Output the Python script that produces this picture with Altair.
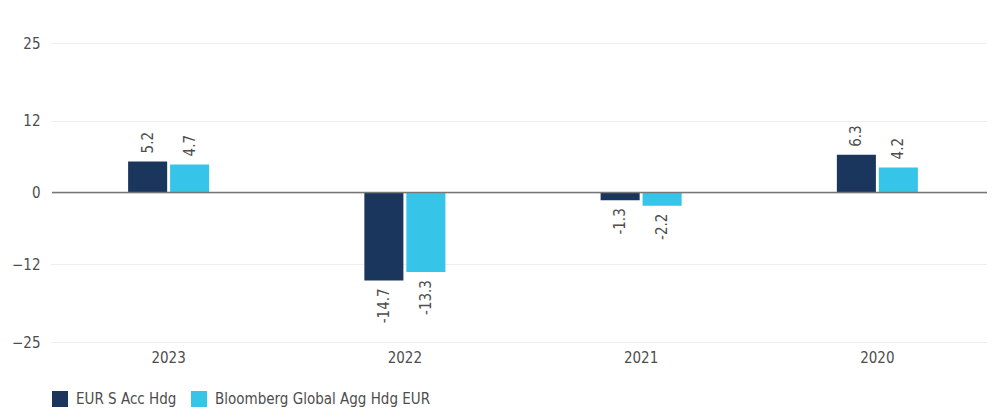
import altair as alt
import pandas as pd

years = ["2023", "2022", "2021", "2020"]
series = ["EUR S Acc Hdg", "Bloomberg Global Agg Hdg EUR"]
fund = [5.2, -14.7, -1.3, 6.3]
bench = [4.7, -13.3, -2.2, 4.2]
y_ticks = [-25, -12, 0, 12, 25]
colors = ["#1b365d", "#36c5e8"]

rows = []
for i, yr in enumerate(years):
    rows.append({"year": yr, "series": series[0], "value": fund[i], "label": f"{fund[i]:.1f}"})
    rows.append({"year": yr, "series": series[1], "value": bench[i], "label": f"{bench[i]:.1f}"})
df = pd.DataFrame(rows)

FONT = "DejaVu Sans Condensed"
FS = 15
TXT = "#4d4d4d"

x_enc = alt.X("year:N", sort=years, title=None,
              scale=alt.Scale(paddingInner=0.657, paddingOuter=0.3285, range=[-1.5, 943.5]),
              axis=alt.Axis(labelAngle=0, domain=False, ticks=False, labelPadding=8,
                            labelFontSize=FS, labelColor=TXT, labelFont=FONT))
xoff = alt.XOffset("series:N", sort=series, scale=alt.Scale(paddingInner=0.07, paddingOuter=0))
y_enc = alt.Y("value:Q", title=None,
              scale=alt.Scale(domain=[-25, 25], nice=False),
              axis=alt.Axis(values=y_ticks, domain=False, ticks=False, labelPadding=12,
                            labelFontSize=FS, labelColor=TXT, labelFont=FONT,
                            grid=True, gridColor="#eeeeee", gridWidth=1))

base = alt.Chart(df)

bars = base.mark_bar().encode(
    x=x_enc, xOffset=xoff, y=y_enc,
    color=alt.Color("series:N", sort=series, title=None,
                    scale=alt.Scale(domain=series, range=colors),
                    legend=alt.Legend(orient="none", legendX=0, legendY=348, direction="horizontal",
                                      symbolType="square", symbolSize=256, symbolStrokeWidth=0,
                                      labelFontSize=FS, labelColor=TXT, labelFont=FONT,
                                      labelLimit=400, columnPadding=14, labelOffset=8)),
)

pos = base.transform_filter("datum.value >= 0").mark_text(
    angle=270, align="left", baseline="middle", dx=8, fontSize=FS, color=TXT, font=FONT
).encode(x=alt.X("year:N", sort=years), xOffset=xoff, y="value:Q", text="label:N")

neg = base.transform_filter("datum.value < 0").mark_text(
    angle=270, align="right", baseline="middle", dx=-8, fontSize=FS, color=TXT, font=FONT
).encode(x=alt.X("year:N", sort=years), xOffset=xoff, y="value:Q", text="label:N")

zero = alt.Chart(pd.DataFrame({"z": [0]})).mark_rule(color="#777777", strokeWidth=1.5).encode(y="z:Q")

chart = alt.layer(bars, zero, pos, neg).properties(
    width=935, height=299,
    autosize=alt.AutoSizeParams(type="none"),
    padding={"left": 44, "top": 35, "right": 0, "bottom": 68},
).configure_view(stroke=None)

chart.save("out.html", embed_options={"renderer": "svg", "actions": False})
